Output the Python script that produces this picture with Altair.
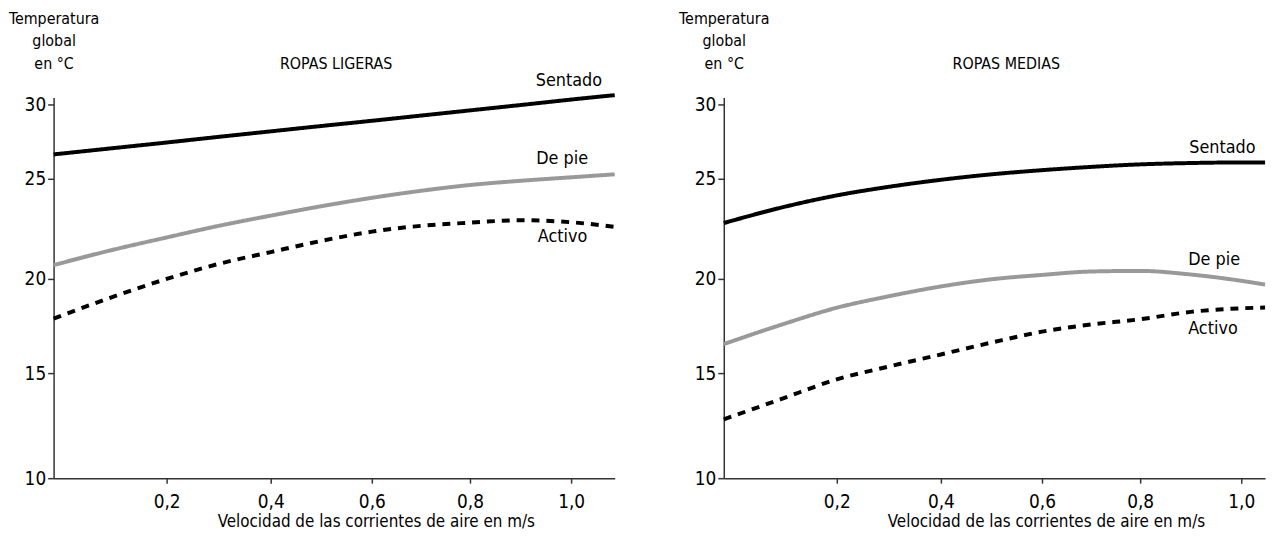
import altair as alt
import pandas as pd

# ---------------- data ----------------
velocidad = [0.0, 0.1, 0.2, 0.3, 0.4, 0.5, 0.6, 0.7, 0.8, 0.9, 1.0]
series_names = ["Sentado", "De pie", "Activo"]

# ROPAS LIGERAS (left panel); last value is at the right end of the axis
lig_x_end = 1.086
lig_sentado = [26.64, 27.04, 27.44, 27.82, 28.19, 28.55, 28.90, 29.25, 29.60, 29.96, 30.33, 30.63]
lig_de_pie = [20.69, 21.42, 22.07, 22.65, 23.16, 23.63, 24.05, 24.40, 24.69, 24.90, 25.10, 25.30]
lig_activo = [17.89, 19.00, 20.00, 20.75, 21.34, 21.90, 22.36, 22.65, 22.81, 22.93, 22.83, 22.60]
lig_label_x = [0.930, 0.931, 0.934]
lig_label_y = [31.6, 26.34, 22.07]

# ROPAS MEDIAS (right panel)
med_x_end = 1.047
med_sentado = [22.79, 23.55, 24.17, 24.60, 24.95, 25.30, 25.58, 25.80, 25.97, 26.06, 26.10, 26.10]
med_de_pie = [16.54, 17.55, 18.47, 19.08, 19.60, 19.98, 20.20, 20.37, 20.40, 20.22, 19.90, 19.70]
med_activo = [12.80, 13.75, 14.70, 15.35, 15.99, 16.62, 17.20, 17.58, 17.86, 18.25, 18.44, 18.48]
med_label_x = [0.897, 0.895, 0.895]
med_label_y = [27.07, 20.94, 17.32]

x_ticks = [0.2, 0.4, 0.6, 0.8, 1.0]
y_ticks = [10, 15, 20, 25, 30]
y_title = ["Temperatura", "global", "en °C"]
x_title = "Velocidad de las corrientes de aire en m/s"
panel_titles = ["ROPAS LIGERAS", "ROPAS MEDIAS"]

# ---------------- layout / style ----------------
FONT = "Liberation Sans Narrow, DejaVu Sans Condensed, sans-serif"
PLOT_H = 384
X_BREAKS = [0, 0.2, 0.4, 0.6, 0.8, 1.0]
X_RANGE = [0, 114, 219, 321, 420, 522]
Y_DOMAIN = [10, 15, 20, 25, 30, 30.47]
Y_RANGE = [384, 278, 183, 82, 7, 0]


def panel(title, x_end, width, vals, lab_x, lab_y):
    xs = velocidad + [x_end]
    rows = []
    for name, serie in zip(series_names, vals):
        for x, t in zip(xs, serie):
            rows.append({"v": x, "t": t, "serie": name})
    df = pd.DataFrame(rows)
    labels = pd.DataFrame({"serie": series_names, "v": lab_x, "t": lab_y})

    xscale = alt.Scale(domain=X_BREAKS + [x_end], range=X_RANGE + [width], nice=False, zero=False)
    yscale = alt.Scale(domain=Y_DOMAIN, range=Y_RANGE, nice=False, zero=False)

    xenc = alt.X(
        "v:Q",
        scale=xscale,
        axis=alt.Axis(
            values=x_ticks,
            labelExpr="replace(format(datum.value, '.1f'), '.', ',')",
            title=x_title,
            titleX=325,
            titleY=44,
            titleAlign="center",
            titleBaseline="middle",
            titleFontSize=17,
            labelPadding=10,
            tickSize=5,
        ),
    )
    yenc = alt.Y(
        "t:Q",
        scale=yscale,
        axis=alt.Axis(
            values=y_ticks,
            title=y_title,
            titleAngle=0,
            titleX=0,
            titleY=-88,
            titleAlign="center",
            titleBaseline="top",
            titleLineHeight=23,
            titleFontSize=16,
            labelPadding=2,
            tickSize=6,
        ),
    )

    lines = alt.Chart(df).mark_line(strokeWidth=4, interpolate="monotone").encode(
        x=xenc,
        y=yenc,
        detail="serie:N",
        color=alt.Color("serie:N", scale=alt.Scale(domain=series_names, range=["#000000", "#999999", "#000000"]), legend=None),
        strokeDash=alt.StrokeDash("serie:N", scale=alt.Scale(domain=series_names, range=[[1, 0], [1, 0], [8, 7]]), legend=None),
    )
    texts = alt.Chart(labels).mark_text(align="left", baseline="middle", fontSize=18, font=FONT, color="black").encode(
        x=alt.X("v:Q", scale=xscale),
        y=alt.Y("t:Q", scale=yscale),
        text="serie:N",
    )
    head = alt.Chart(pd.DataFrame({"titulo": [title]})).mark_text(
        align="center", baseline="middle", fontSize=16, font=FONT, color="black"
    ).encode(x=alt.value(285), y=alt.value(-34), text="titulo:N")
    return alt.layer(lines, texts, head).properties(width=width, height=PLOT_H)


left = panel(panel_titles[0], lig_x_end, 566, [lig_sentado, lig_de_pie, lig_activo], lig_label_x, lig_label_y)
right = panel(panel_titles[1], med_x_end, 546, [med_sentado, med_de_pie, med_activo], med_label_x, med_label_y)

chart = (
    alt.hconcat(left, right, spacing=56)
    .properties(padding={"left": 0, "top": 0, "right": 0, "bottom": 0}, background="white")
    .configure_view(stroke=None)
    .configure_axis(
        grid=False,
        domainColor="#333333",
        domainWidth=1.5,
        tickColor="#333333",
        tickWidth=1.5,
        labelFont=FONT,
        labelFontSize=19,
        labelColor="black",
        titleFont=FONT,
        titleFontWeight="normal",
        titleColor="black",
    )
)

chart.save("out.html", embed_options={"renderer": "svg", "actions": False})
